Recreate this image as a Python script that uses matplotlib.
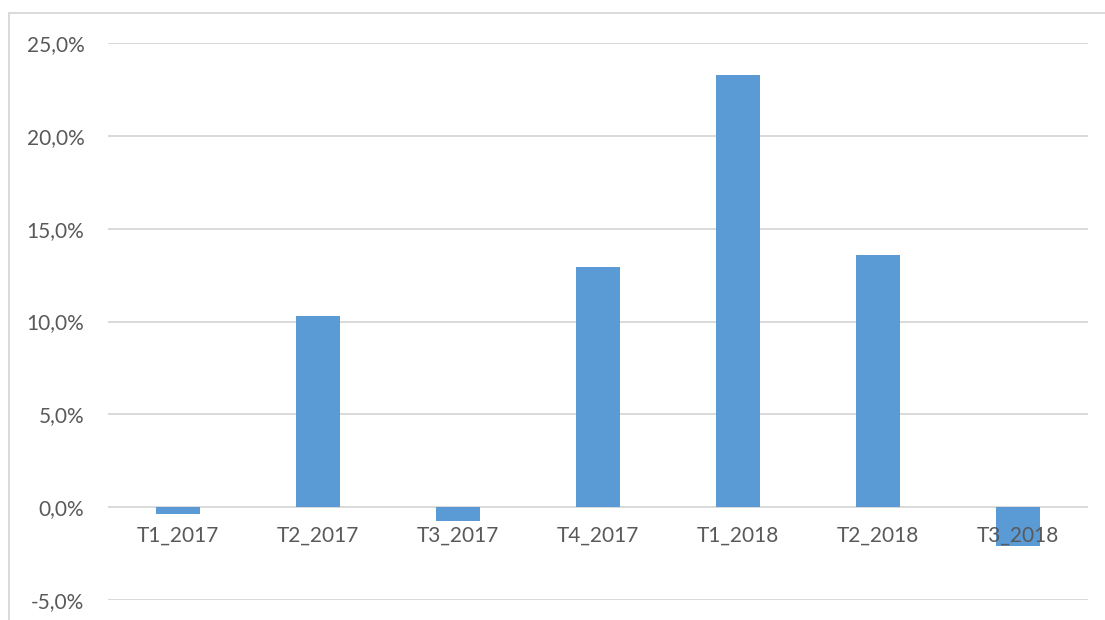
import matplotlib
matplotlib.use("Agg")
import matplotlib.pyplot as plt
from matplotlib.patches import Rectangle
from matplotlib.ticker import FuncFormatter

categories = ["T1_2017", "T2_2017", "T3_2017", "T4_2017", "T1_2018", "T2_2018", "T3_2018"]
values = [-0.35, 10.3, -0.77, 12.93, 23.3, 13.58, -2.1]
yticks = [-5, 0, 5, 10, 15, 20, 25]

plt.rcParams['font.family'] = ['Lato', 'DejaVu Sans']
text_color = "#595959"
grid_color = "#d9d9d9"
bar_color = "#5B9BD5"

W, H = 1105, 620
fig = plt.figure(figsize=(W / 100, H / 100), dpi=100)
ax = fig.add_axes([108 / W, (H - 600) / H, (1088 - 108) / W, (600 - 43) / H])
ax.set_axisbelow(False)

x = list(range(len(categories)))
ax.bar(x, values, width=0.315, color=bar_color, zorder=2)

ax.set_xlim(-0.5, len(categories) - 0.5)
ax.set_ylim(-5, 25)
ax.set_yticks(yticks)
ax.yaxis.set_major_formatter(FuncFormatter(lambda v, p: f"{v:.1f}%".replace(".", ",")))
for yv in yticks:
    ax.axhline(yv, color=grid_color, lw=1.4, zorder=1)

ax.set_xticks(x)
ax.set_xticklabels(categories)
ax.spines['bottom'].set_position(('data', 0))
for s in ax.spines.values():
    s.set_visible(False)
ax.tick_params(axis='x', length=0, pad=13, labelsize=15, labelcolor=text_color)
ax.tick_params(axis='y', length=0, pad=17, labelsize=15, labelcolor=text_color)
ax.xaxis.set_zorder(5)

fig.patches.append(Rectangle((8.5 / W, -0.1), 1.2, (H - 13) / H + 0.1,
                             transform=fig.transFigure, fill=False,
                             edgecolor=grid_color, lw=1.4))

fig.savefig("out.png", dpi=100)
